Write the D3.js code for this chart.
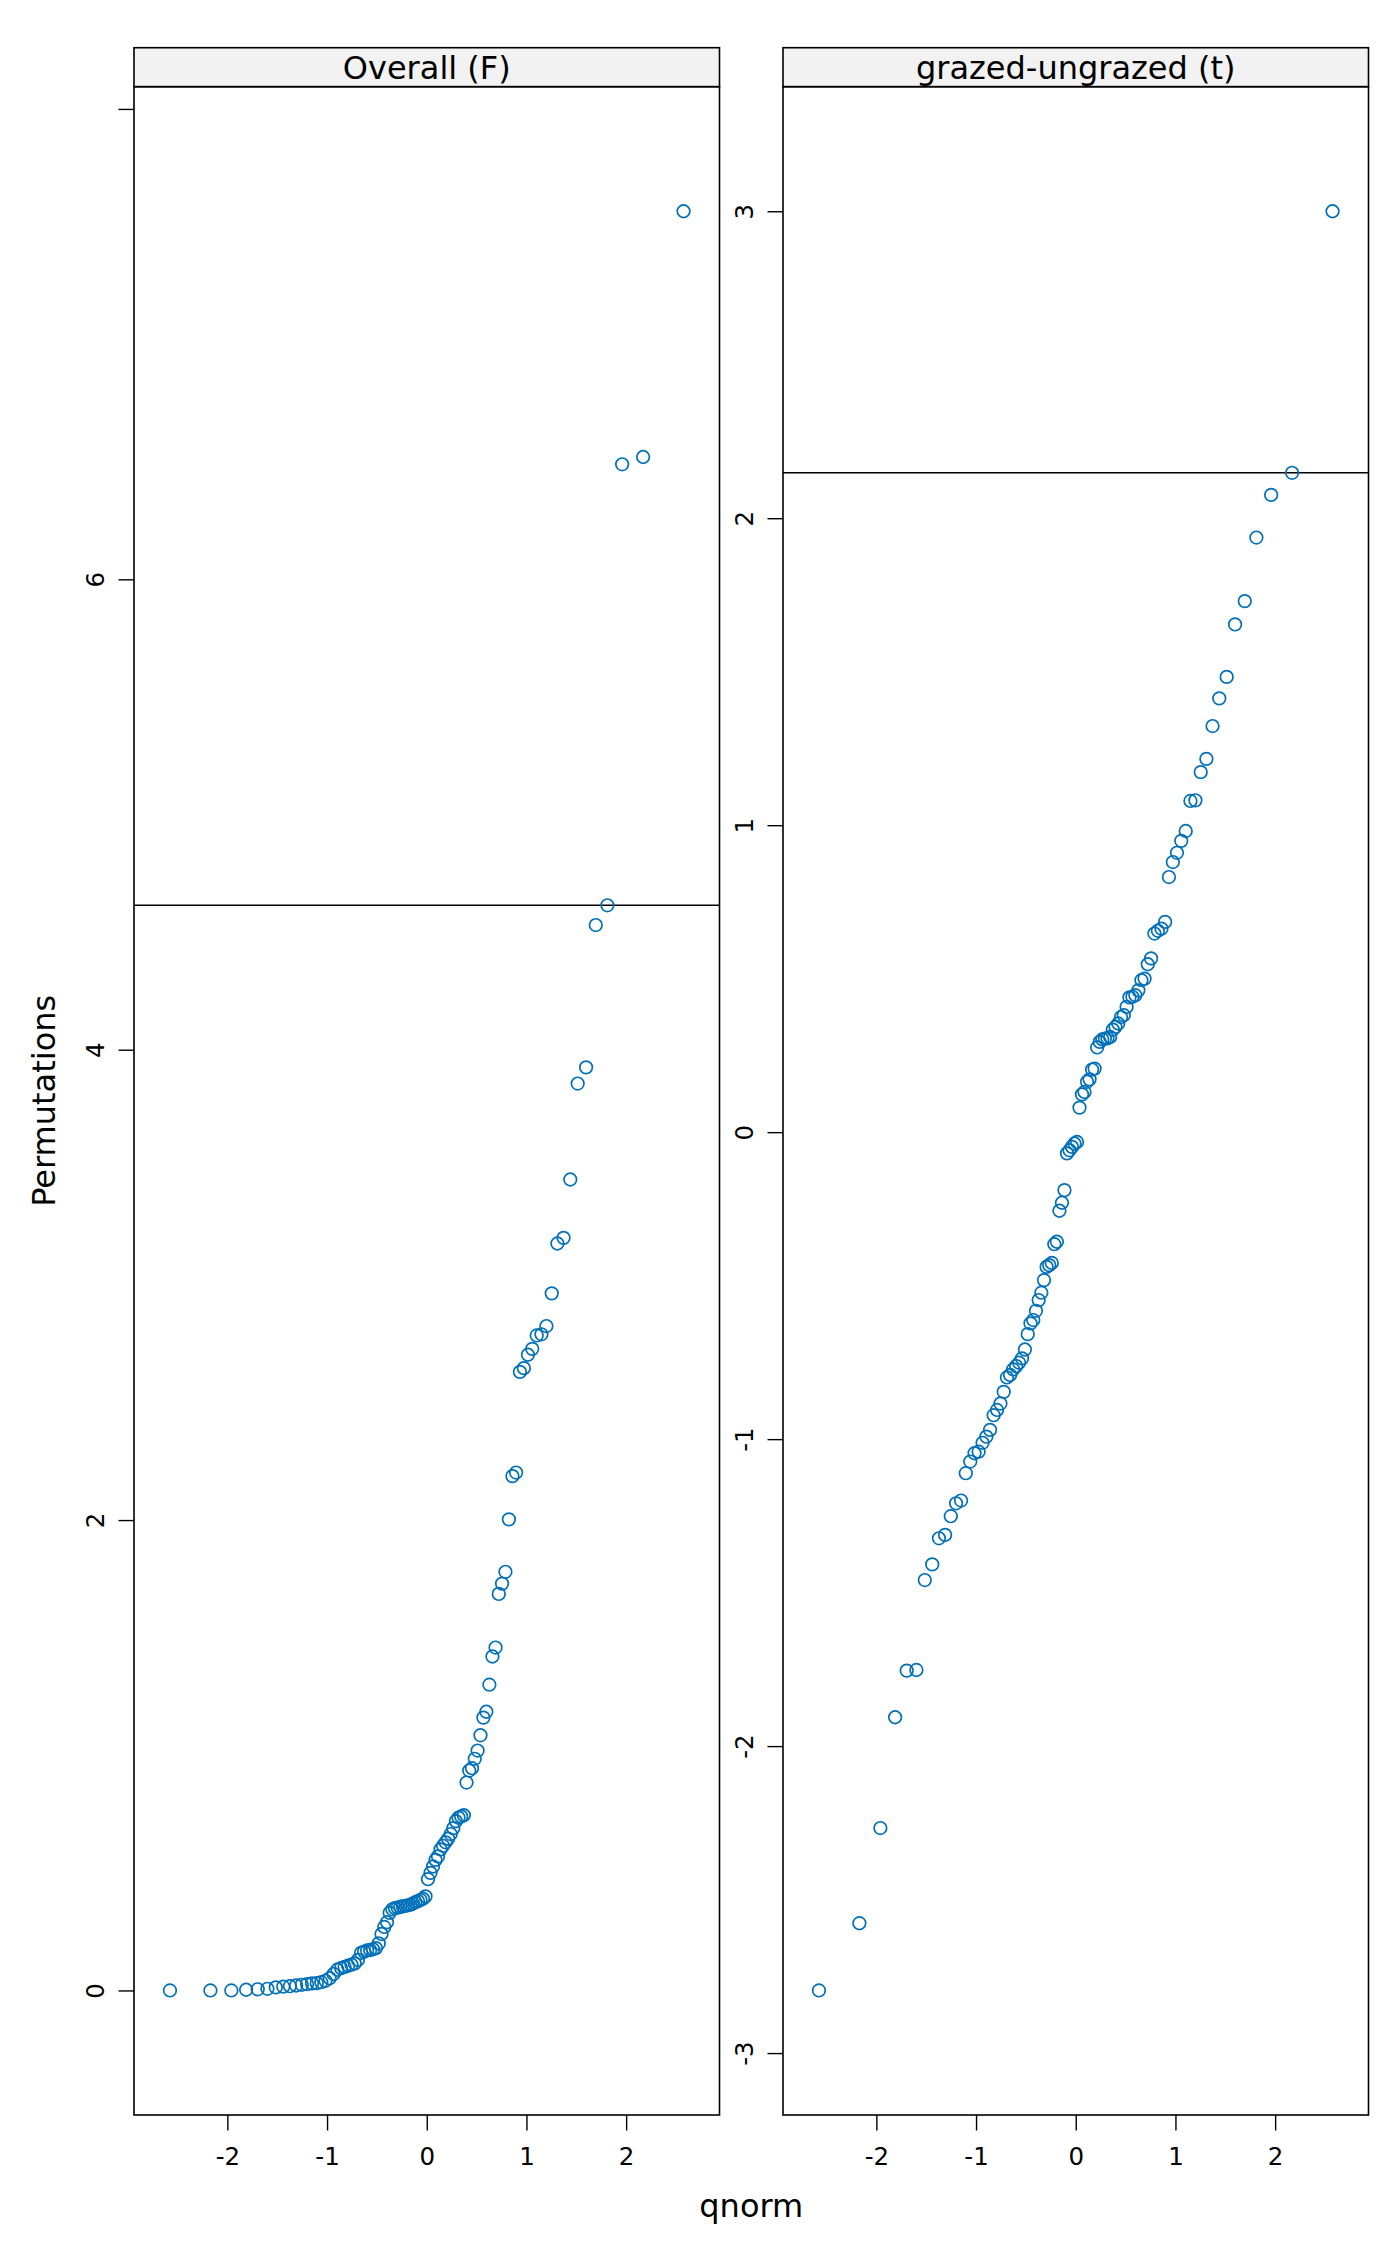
<!DOCTYPE html>
<html>
<head>
<meta charset="utf-8">
<script src="https://cdn.jsdelivr.net/npm/d3@7"></script>
<style>
  body { margin: 0; background: #fff; }
  svg { display: block; font-family: "DejaVu Sans", sans-serif; }
</style>
</head>
<body>
<div id="chart"></div>
<script>
/************ qqmath panels: permutation statistics *****************/

// panel titles and observed statistics (horizontal reference lines)
const panelTitles = ["Overall (F)", "grazed-ungrazed (t)"];
const observedStat = [4.614, 2.148];

// sorted permutation statistics (100 each)
const overallF = [
  0.000, 0.000, 0.000, 0.003, 0.005, 0.007, 0.013, 0.016, 0.018, 0.021,
  0.024, 0.027, 0.030, 0.031, 0.035, 0.041, 0.052, 0.070, 0.088, 0.095,
  0.100, 0.105, 0.110, 0.115, 0.130, 0.160, 0.165, 0.170, 0.172, 0.175,
  0.180, 0.200, 0.240, 0.270, 0.290, 0.330, 0.345, 0.350, 0.352, 0.355,
  0.358, 0.360, 0.362, 0.365, 0.370, 0.375, 0.380, 0.385, 0.390, 0.400,
  0.473, 0.500, 0.527, 0.555, 0.570, 0.600, 0.615, 0.630, 0.645, 0.665,
  0.690, 0.720, 0.735, 0.740, 0.745, 0.884, 0.935, 0.945, 0.985, 1.020,
  1.085, 1.160, 1.185, 1.300, 1.420, 1.458, 1.686, 1.730, 1.780, 2.003,
  2.187, 2.202, 2.630, 2.646, 2.703, 2.728, 2.785, 2.790, 2.825, 2.964,
  3.176, 3.200, 3.448, 3.856, 3.925, 4.530, 4.614, 6.489, 6.520, 7.565
];

const grazedT = [
  -2.796, -2.577, -2.267, -1.906, -1.754, -1.752, -1.459, -1.408, -1.323, -1.312,
  -1.251, -1.209, -1.200, -1.111, -1.073, -1.046, -1.041, -1.012, -0.992, -0.970,
  -0.922, -0.905, -0.884, -0.846, -0.799, -0.791, -0.773, -0.762, -0.751, -0.737,
  -0.708, -0.658, -0.623, -0.612, -0.582, -0.547, -0.523, -0.482, -0.439, -0.433,
  -0.426, -0.365, -0.357, -0.256, -0.230, -0.189, -0.069, -0.059, -0.048, -0.037,
  -0.032, 0.080, 0.123, 0.131, 0.164, 0.172, 0.204, 0.207, 0.276, 0.294,
  0.302, 0.305, 0.306, 0.310, 0.334, 0.343, 0.354, 0.375, 0.381, 0.408,
  0.439, 0.441, 0.446, 0.462, 0.495, 0.500, 0.547, 0.566, 0.647, 0.656,
  0.663, 0.685, 0.831, 0.880, 0.910, 0.949, 0.981, 1.079, 1.081, 1.173,
  1.216, 1.323, 1.413, 1.483, 1.654, 1.730, 1.937, 2.076, 2.148, 3.000
];

// tick labels
const xTicks = [-2, -1, 0, 1, 2];
const yTicksF = [0, 2, 4, 6, 8];
const yLabelsF = ["0", "2", "4", "6", ""];
const yTicksT = [-3, -2, -1, 0, 1, 2, 3];
const yLabelsT = ["-3", "-2", "-1", "0", "1", "2", "3"];

// inverse normal cdf (Acklam) -- theoretical quantiles for qqmath
function qnorm(p) {
  let a = [-3.969683028665376e+01, 2.209460984245205e+02, -2.759285104469687e+02,
           1.383577518672690e+02, -3.066479806614716e+01, 2.506628277459239e+00];
  let b = [-5.447609879822406e+01, 1.615858368580409e+02, -1.556989798598866e+02,
           6.680131188771972e+01, -1.328068155288572e+01];
  let c = [-7.784894002430293e-03, -3.223964580411365e-01, -2.400758277161838e+00,
           -2.549732539343734e+00, 4.374664141464968e+00, 2.938163982698783e+00];
  let d = [7.784695709041462e-03, 3.224671290700398e-01, 2.445134137142996e+00,
           3.754408661907416e+00];
  let pl = 0.02425, q, r;
  if (p < pl) {
    q = Math.sqrt(-2 * Math.log(p));
    return (((((c[0]*q+c[1])*q+c[2])*q+c[3])*q+c[4])*q+c[5]) / ((((d[0]*q+d[1])*q+d[2])*q+d[3])*q+1);
  }
  if (p > 1 - pl) {
    q = Math.sqrt(-2 * Math.log(1 - p));
    return -(((((c[0]*q+c[1])*q+c[2])*q+c[3])*q+c[4])*q+c[5]) / ((((d[0]*q+d[1])*q+d[2])*q+d[3])*q+1);
  }
  q = p - 0.5; r = q * q;
  return (((((a[0]*r+a[1])*r+a[2])*r+a[3])*r+a[4])*r+a[5])*q / (((((b[0]*r+b[1])*r+b[2])*r+b[3])*r+b[4])*r+1);
}

// ppoints(n), a = 0.5
function ppoints(n) {
  return d3.range(n).map(i => (i + 1 - 0.5) / n);
}

// lattice pads the data range by 7% on each side
function padRange(ext) {
  let pad = 0.07 * (ext[1] - ext[0]);
  return [ext[0] - pad, ext[1] + pad];
}

let width = 1400, height = 2266;
let stripTop = 47.7, panelTop = 86.7, panelBottom = 2115;
let panelLefts = [134, 783], panelWidth = 585.5;
let pointColour = "#0070b8";

let svg = d3.select("#chart").append("svg")
    .attr("width", width)
    .attr("height", height);

svg.append("rect").attr("width", width).attr("height", height).attr("fill", "#fff");

let panels = [
  {title: panelTitles[0], values: overallF, obs: observedStat[0], ticks: yTicksF, labels: yLabelsF},
  {title: panelTitles[1], values: grazedT, obs: observedStat[1], ticks: yTicksT, labels: yLabelsT}
];

panels.forEach(function(panel, k) {
  let left = panelLefts[k];
  let n = panel.values.length;
  let theo = ppoints(n).map(qnorm);
  let pts = panel.values.map((v, i) => ({q: theo[i], v: v}));

  let x = d3.scaleLinear()
      .domain(padRange(d3.extent(theo))).range([left, left + panelWidth]);
  let y = d3.scaleLinear()
      .domain(padRange(d3.extent(panel.values))).range([panelBottom, panelTop]);

  let g = svg.append("g");

  // strip
  g.append("rect")
      .attr("x", left).attr("y", stripTop)
      .attr("width", panelWidth).attr("height", panelTop - stripTop)
      .attr("fill", "#f2f2f2").attr("stroke", "#000").attr("stroke-width", 1.6);
  g.append("text")
      .attr("x", left + panelWidth / 2).attr("y", 79)
      .attr("text-anchor", "middle")
      .attr("font-size", 32)
      .text(panel.title);

  // bottom axis
  let xAxis = g.append("g")
      .attr("transform", "translate(0," + panelBottom + ")")
      .call(d3.axisBottom(x).tickValues(xTicks).tickSize(15.5).tickFormat(d => String(d)));
  xAxis.select(".domain").remove();
  xAxis.selectAll("line").attr("stroke", "#000").attr("stroke-width", 1.4);
  xAxis.selectAll("text")
      .attr("y", 50).attr("dy", null)
      .attr("fill", "#000")
      .attr("font-size", 24.5)
      .attr("font-family", "DejaVu Sans");

  // left axis, rotated labels
  let yAxis = g.append("g")
      .attr("transform", "translate(" + left + ",0)")
      .call(d3.axisLeft(y).tickValues(panel.ticks).tickSize(15.5)
          .tickFormat((d, i) => panel.labels[i]));
  yAxis.select(".domain").remove();
  yAxis.selectAll("line").attr("stroke", "#000").attr("stroke-width", 1.4);
  yAxis.selectAll("text")
      .attr("x", 0).attr("dy", null)
      .attr("transform", "translate(-30,0) rotate(-90)")
      .attr("text-anchor", "middle")
      .attr("fill", "#000")
      .attr("font-size", 24.5)
      .attr("font-family", "DejaVu Sans");

  // observed statistic
  g.append("line")
      .attr("x1", left).attr("x2", left + panelWidth)
      .attr("y1", y(panel.obs)).attr("y2", y(panel.obs))
      .attr("stroke", "#000").attr("stroke-width", 1.6);

  // points
  g.selectAll("circle")
      .data(pts)
      .enter().append("circle")
      .attr("cx", d => x(d.q))
      .attr("cy", d => y(d.v))
      .attr("r", 6.3)
      .attr("fill", "none")
      .attr("stroke", pointColour)
      .attr("stroke-width", 1.7);

  // panel border
  g.append("rect")
      .attr("x", left).attr("y", panelTop)
      .attr("width", panelWidth).attr("height", panelBottom - panelTop)
      .attr("fill", "none").attr("stroke", "#000").attr("stroke-width", 1.6);
});

// axis titles
svg.append("text")
    .attr("x", (panelLefts[0] + panelLefts[1] + panelWidth) / 2)
    .attr("y", 2217)
    .attr("text-anchor", "middle")
    .attr("font-size", 32)
    .text("qnorm");

svg.append("text")
    .attr("transform", "translate(55," + ((panelTop + panelBottom) / 2) + ") rotate(-90)")
    .attr("text-anchor", "middle")
    .attr("font-size", 32)
    .text("Permutations");
</script>
</body>
</html>
